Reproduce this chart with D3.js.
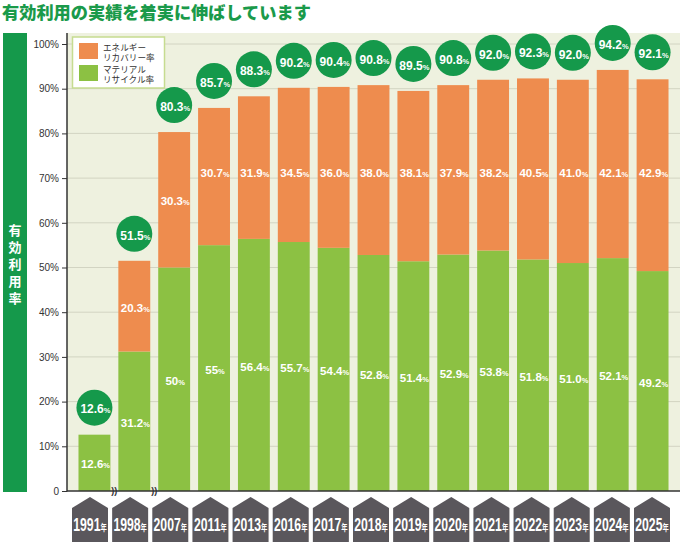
<!DOCTYPE html>
<html><head><meta charset="utf-8">
<script src="https://cdn.jsdelivr.net/npm/d3@7/dist/d3.min.js"></script>
<style>
html,body{margin:0;padding:0;background:#fff;}
svg{display:block;}
</style></head>
<body>
<script>
const years = ["1991","1998","2007","2011","2013","2016","2017","2018","2019","2020","2021","2022","2023","2024","2025"];
const material = [12.6,31.2,50,55,56.4,55.7,54.4,52.8,51.4,52.9,53.8,51.8,51.0,52.1,49.2];
const energy = [0,20.3,30.3,30.7,31.9,34.5,36.0,38.0,38.1,37.9,38.2,40.5,41.0,42.1,42.9];
const total = [12.6,51.5,80.3,85.7,88.3,90.2,90.4,90.8,89.5,90.8,92.0,92.3,92.0,94.2,92.1];
const materialLabels = ["12.6","31.2","50","55","56.4","55.7","54.4","52.8","51.4","52.9","53.8","51.8","51.0","52.1","49.2"];
const energyLabels = ["","20.3","30.3","30.7","31.9","34.5","36.0","38.0","38.1","37.9","38.2","40.5","41.0","42.1","42.9"];
const totalLabels = ["12.6","51.5","80.3","85.7","88.3","90.2","90.4","90.8","89.5","90.8","92.0","92.3","92.0","94.2","92.1"];
const yTicks = [0,10,20,30,40,50,60,70,80,90,100];
const legendItems = [
  {lines:["エネルギー","リカバリー率"], key:"energy"},
  {lines:["マテリアル","リサイクル率"], key:"material"}
];
const title = "有効利用の実績を着実に伸ばしています";
const sideLabel = "有効利用率";

const W=686,H=544;
const C = {orange:"#ee8c4e", green:"#8cc143", dark:"#15994b", bg:"#eef1df", grid:"#d2d4c2", axis:"#333", label:"#5a575c"};
const JP = "'Noto Sans CJK JP','Noto Sans',sans-serif";
const NUM = "'Liberation Sans','Arial',sans-serif";

const svg = d3.select("body").append("svg").attr("width",W).attr("height",H);

// title
svg.append("text").attr("x",2).attr("y",19).attr("font-family",JP).attr("font-weight",900)
  .attr("font-size",17.2).attr("fill","#1a9a4a").text(title);

// side strip
svg.append("rect").attr("x",3).attr("y",33).attr("width",24).attr("height",459).attr("fill",C.dark);
svg.append("text").attr("x",15).attr("y",223.5)
  .style("writing-mode","vertical-rl").style("letter-spacing","4px")
  .attr("font-family",JP).attr("font-weight",700).attr("font-size",13).attr("fill","#fff")
  .text(sideLabel);

const plotL=67, plotR=680, plotT=33, plotB=491;
const y = d3.scaleLinear().domain([0,100]).range([491,44]);
const x = d3.scaleBand().domain(years).range([74.5,672.5]).paddingInner(0.2).paddingOuter(0.1);
const xl = d3.scaleBand().domain(years).range([72,670]).paddingInner(0.103).paddingOuter(0);

svg.append("rect").attr("x",plotL).attr("y",plotT).attr("width",plotR-plotL).attr("height",plotB-plotT).attr("fill",C.bg);

// grid
svg.append("g").selectAll("line").data(yTicks.filter(d=>d>0)).join("line")
  .attr("x1",plotL).attr("x2",plotR).attr("y1",d=>y(d)).attr("y2",d=>y(d))
  .attr("stroke",C.grid).attr("stroke-width",1);

// y axis
const ax = svg.append("g").attr("transform",`translate(${plotL},0)`)
  .call(d3.axisLeft(y).tickValues(yTicks).tickSize(5).tickPadding(3).tickFormat(d=>d===0?"0":d+"%"));
ax.select(".domain").remove();
ax.selectAll("text").attr("font-family",NUM).attr("font-size",10).attr("fill","#333");
ax.selectAll("line").attr("stroke","#333");

// bars
const data = years.map((yr,i)=>({yr,i,m:material[i],e:energy[i],t:total[i]}));
const g = svg.append("g");
g.selectAll("rect.m").data(data).join("rect").attr("class","m")
  .attr("x",d=>x(d.yr)).attr("width",x.bandwidth())
  .attr("y",d=>y(d.m)).attr("height",d=>y(0)-y(d.m)).attr("fill",C.green);
g.selectAll("rect.e").data(data.filter(d=>d.e>0)).join("rect").attr("class","e")
  .attr("x",d=>x(d.yr)).attr("width",x.bandwidth())
  .attr("y",d=>y(d.m+d.e)).attr("height",d=>y(d.m)-y(d.m+d.e)).attr("fill",C.orange);

function pctLabel(sel, size, pctSize){
  sel.each(function(d){
    const t=d3.select(this);
    t.append("tspan").attr("font-size",size).text(d.label);
    t.append("tspan").attr("font-size",pctSize).text("%");
  });
}
// inner labels
const inner = [];
data.forEach(d=>{
  inner.push({x:x(d.yr)+x.bandwidth()/2, v:d.m/2, label:materialLabels[d.i]});
  if(d.e>0){
    const mid = d.m + d.e/2;
    inner.push({x:x(d.yr)+x.bandwidth()/2, v: mid<70?mid:71.4, label:energyLabels[d.i]});
  }
});
g.selectAll("text.in").data(inner).join("text").attr("class","in")
  .attr("x",d=>d.x+1).attr("y",d=>y(d.v)).attr("dy","0.35em").attr("text-anchor","middle")
  .attr("font-family",NUM).attr("font-weight",700).attr("fill","#fff")
  .call(pctLabel, 11.5, 7.5);

// circles
const cg = g.selectAll("g.c").data(data).join("g").attr("class","c")
  .attr("transform",d=>`translate(${x(d.yr)+x.bandwidth()/2},${y(d.t)-27})`);
cg.append("circle").attr("r",18).attr("fill",C.dark);
cg.append("text").datum(d=>({label:totalLabels[d.i]})).attr("x",1).attr("dy","0.36em").attr("text-anchor","middle")
  .attr("font-family",NUM).attr("font-weight",700).attr("fill","#fff")
  .call(pctLabel, 12, 7.5);

// axis lines
svg.append("line").attr("x1",plotL).attr("x2",plotL).attr("y1",plotT).attr("y2",plotB+0.5).attr("stroke","#333").attr("stroke-width",1.5);
svg.append("line").attr("x1",plotL).attr("x2",plotR).attr("y1",plotB).attr("y2",plotB).attr("stroke","#333").attr("stroke-width",1.5);

// break marks
const breaks = [[years[0],years[1]],[years[1],years[2]]];
svg.append("g").selectAll("text").data(breaks).join("text")
  .attr("x",d=>(x(d[0])+x.bandwidth()+x(d[1]))/2).attr("y",plotB+3).attr("text-anchor","middle")
  .attr("font-family",NUM).attr("font-weight",700).attr("font-size",9).attr("fill","#333").text("))");

// legend
const lg = svg.append("g");
lg.append("rect").attr("x",72.5).attr("y",37).attr("width",92).attr("height",51).attr("fill","#fff")
  .attr("stroke","#c6dc90").attr("stroke-width",1.5);
legendItems.forEach((it,i)=>{
  const yy = 43 + i*22;
  lg.append("rect").attr("x",79).attr("y",yy).attr("width",19).attr("height",16)
    .attr("fill",it.key==="energy"?C.orange:C.green);
  it.lines.forEach((ln,j)=>{
    lg.append("text").attr("x",103).attr("y",yy+8+j*10)
      .attr("font-family","'Liberation Sans','Noto Sans CJK JP',sans-serif").attr("font-size",8.6).attr("fill","#333").text(ln);
  });
});

// x labels (house shapes)
const xg = svg.append("g").selectAll("g").data(years).join("g")
  .attr("transform",d=>`translate(${xl(d)},497)`);
const w = xl.bandwidth();
xg.append("path").attr("d",`M0,11 L${w/2},0 L${w},11 L${w},45 L0,45 Z`).attr("fill",C.label);
xg.append("text").attr("transform",`translate(${w/2},28) scale(0.7,1)`).attr("dy","0.36em").attr("text-anchor","middle")
  .attr("font-family",NUM).attr("font-weight",700).attr("fill","#fff")
  .each(function(d){
    const t=d3.select(this);
    t.append("tspan").attr("font-size",17.5).text(d);
    t.append("tspan").attr("font-size",9).attr("font-family",JP).text("年");
  });
</script>
</body></html>
